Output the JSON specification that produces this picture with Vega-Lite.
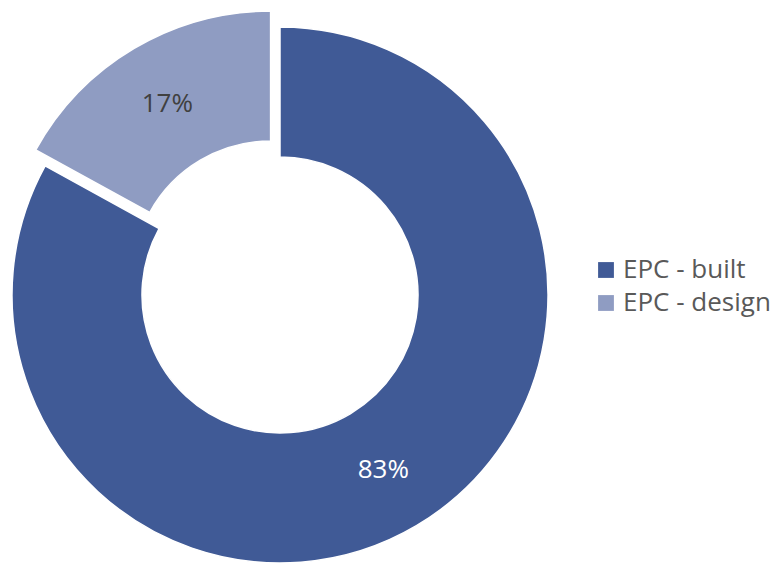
{
  "$schema": "https://vega.github.io/schema/vega-lite/v6.json",
  "width": 560,
  "height": 536,
  "autosize": "none",
  "padding": {"left": 0, "top": 27, "right": 215, "bottom": 0},
  "background": "white",
  "config": {"view": {"stroke": null}, "font": "Open Sans"},
  "data": {
    "values": [
      {"category": "EPC - built", "value": 83, "label": "83%"},
      {"category": "EPC - design", "value": 17, "label": "17%"}
    ]
  },
  "layer": [
    {
      "transform": [
        {"stack": "value", "groupby": [], "as": ["v0", "v1"], "sort": [{"field": "category", "order": "ascending"}]},
        {"filter": "datum.category == 'EPC - built'"}
      ],
      "mark": {"type": "arc", "outerRadius": 268, "innerRadius": 138, "stroke": "white", "strokeWidth": 1.5},
      "encoding": {
        "theta": {"field": "v0", "type": "quantitative", "scale": {"domain": [0, 100], "range": [0, 6.283185307]}},
        "theta2": {"field": "v1"},
        "color": {
          "field": "category", "type": "nominal",
          "scale": {"domain": ["EPC - built", "EPC - design"], "range": ["#405A96", "#8F9CC2"]},
          "legend": {
            "title": null, "orient": "none", "legendX": 593, "legendY": 230,
            "symbolType": "square", "symbolSize": 250, "symbolStrokeWidth": 0,
            "labelFontSize": 26, "labelColor": "#595959", "labelFont": "Open Sans",
            "labelOffset": 4, "rowPadding": 7, "labelLimit": 300
          }
        }
      }
    },
    {
      "transform": [
        {"stack": "value", "groupby": [], "as": ["v0", "v1"], "sort": [{"field": "category", "order": "ascending"}]},
        {"filter": "datum.category == 'EPC - design'"}
      ],
      "mark": {"type": "arc", "outerRadius": 268, "innerRadius": 138, "stroke": "white", "strokeWidth": 1.5, "xOffset": -9.4, "yOffset": -16},
      "encoding": {
        "theta": {"field": "v0", "type": "quantitative"},
        "theta2": {"field": "v1"},
        "color": {"field": "category", "type": "nominal"}
      }
    },
    {
      "mark": {"type": "text", "radius": 203, "fontSize": 26, "fill": "white", "font": "Open Sans"},
      "encoding": {
        "theta": {"field": "value", "type": "quantitative", "stack": true},
        "order": {"field": "category", "sort": "ascending"},
        "text": {"condition": {"test": "datum.category == 'EPC - built'", "field": "label"}, "value": ""}
      }
    },
    {
      "mark": {"type": "text", "radius": 203, "fontSize": 26, "fill": "#404040", "font": "Open Sans", "xOffset": -9.4, "yOffset": -16},
      "encoding": {
        "theta": {"field": "value", "type": "quantitative", "stack": true},
        "order": {"field": "category", "sort": "ascending"},
        "text": {"condition": {"test": "datum.category == 'EPC - design'", "field": "label"}, "value": ""}
      }
    }
  ]
}
